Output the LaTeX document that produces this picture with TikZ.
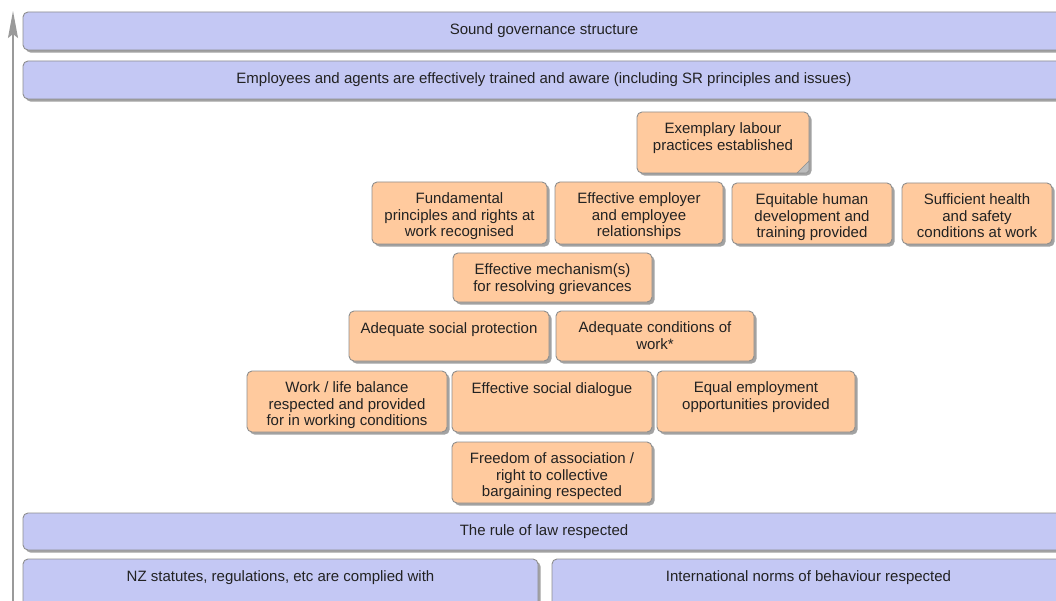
\documentclass[tikz,border=0pt]{standalone}
\usepackage{fontspec}
\setmainfont{Liberation Sans}
\usetikzlibrary{arrows.meta,fit,shadows,calc}

\definecolor{goalblue}{HTML}{C4C8F4}
\definecolor{goalorange}{HTML}{FFCA9E}
\definecolor{edgegray}{HTML}{8E8E8E}
\definecolor{shadegray}{HTML}{A2A2A2}
\definecolor{inkgray}{HTML}{222222}
\definecolor{axisgray}{HTML}{9A9A9A}
\definecolor{foldgray}{HTML}{BDBDBD}

% one outcome box: style, name, x1, y1, x2, y2, text
\newcommand\goalbox[7]{%
  \node[#1, fit={(#3,#4)(#5,#6)}, label={[boxtext]north:{#7}}] (#2) {};%
}

\begin{document}
\begin{tikzpicture}[x=1pt,y=-1pt,
  goal/.style={draw=edgegray, line width=0.9pt, rounded corners=5pt, inner sep=0pt,
    drop shadow={shadow xshift=2.6pt, shadow yshift=-2.6pt, fill=shadegray, opacity=1}},
  bluegoal/.style={goal, fill=goalblue},
  orangegoal/.style={goal, fill=goalorange},
  boxtext/.style={anchor=north, inner sep=0pt, yshift=-10.8pt, align=center,
    font=\fontsize{15}{16.6}\selectfont, text=inkgray,
    execute at begin node=\strut},
  axis/.style={draw=axisgray, line width=1.7pt,
    -{Stealth[length=27pt, width=10pt, inset=4pt, fill=axisgray]}}
]
\useasboundingbox (0,0) rectangle (1056,601);

% vertical axis on the left
\coordinate (axisfoot) at (13,606);
\coordinate (axishead) at (13,11);
\draw[axis] (axisfoot) -- (axishead);

% broad enabling conditions
\goalbox{bluegoal}{governance}{23}{12}{1065}{50}{Sound governance structure}
\goalbox{bluegoal}{employees}{23}{61}{1065}{99}{Employees and agents are effectively trained and aware (including SR principles and issues)}

% labour practice outcomes
\goalbox{orangegoal}{exemplary}{637}{112}{809}{173}{Exemplary labour\\practices established}
\fill[foldgray, draw=edgegray, line width=0.5pt]
  ($(exemplary.south east)+(-12.5,-0.5)$) -- ($(exemplary.south east)+(-0.5,-12.5)$)
  -- ($(exemplary.south east)+(-0.5,-3)$) -- ($(exemplary.south east)+(-3,-0.5)$) -- cycle;

\goalbox{orangegoal}{fundamental}{372}{182}{547}{244}{Fundamental\\principles and rights at\\work recognised}
\goalbox{orangegoal}{employer}{555}{182}{723}{244}{Effective employer\\and employee\\relationships}
\goalbox{orangegoal}{equitable}{732}{183}{892}{244}{Equitable human\\development and\\training provided}
\goalbox{orangegoal}{sufficient}{902}{183}{1052}{244}{Sufficient health\\and safety\\conditions at work}

\goalbox{orangegoal}{mechanism}{453}{253}{652}{302}{Effective mechanism(s)\\for resolving grievances}

\goalbox{orangegoal}{socialprot}{349}{311}{549}{361}{Adequate social protection}
\goalbox{orangegoal}{conditions}{556}{311}{754}{361}{Adequate conditions of\\work*}

\goalbox{orangegoal}{worklife}{247}{371}{447}{432}{Work / life balance\\respected and provided\\for in working conditions}
\goalbox{orangegoal}{dialogue}{452}{371}{652}{432}{Effective social dialogue}
\goalbox{orangegoal}{equal}{657}{371}{855}{432}{Equal employment\\opportunities provided}

\goalbox{orangegoal}{freedom}{452}{442}{652}{503}{Freedom of association /\\right to collective\\bargaining respected}

% legal foundation
\goalbox{bluegoal}{rule}{23}{513}{1065}{550}{The rule of law respected}
\goalbox{bluegoal}{nz}{23}{559}{538}{612}{NZ statutes, regulations, etc are complied with}
\goalbox{bluegoal}{intl}{552}{559}{1065}{612}{International norms of behaviour respected}
\end{tikzpicture}
\end{document}
